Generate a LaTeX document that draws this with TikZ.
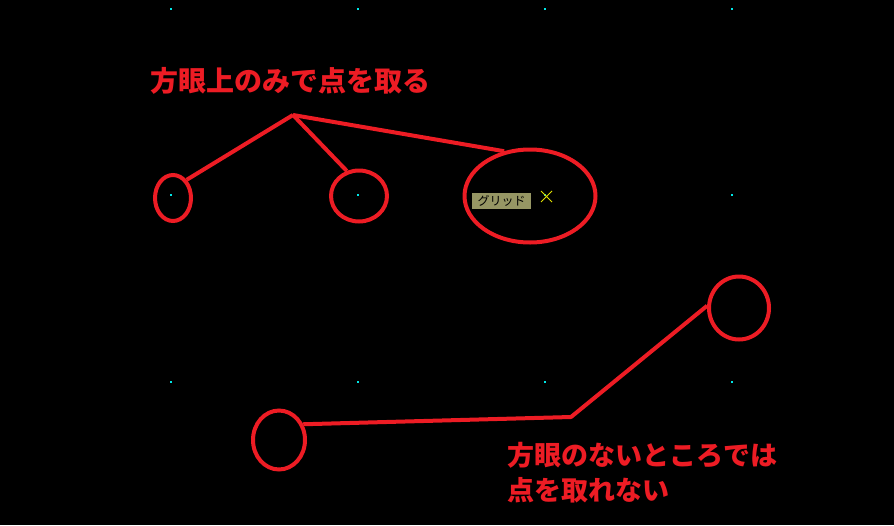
\documentclass[tikz,border=0pt]{standalone}
\usepackage{fontspec}
\newfontfamily\jpfont{Noto Sans CJK JP}
\usetikzlibrary{shapes.geometric}
\definecolor{penred}{RGB}{237,28,36}
\definecolor{griddot}{RGB}{0,230,230}
\definecolor{tipbox}{RGB}{150,150,100}
\definecolor{snapx}{RGB}{225,225,0}
\tikzset{
  pick/.style = {ellipse, draw=penred, line width=4pt, inner sep=0pt},
  note/.style = {text=penred, inner sep=0pt, font=\jpfont\bfseries\fontsize{28}{35}\selectfont}
}

\begin{document}
\begin{tikzpicture} [x=1pt, y=-1pt]
\fill [black] (0,0) rectangle (894,525);
\useasboundingbox (0,0) rectangle (894,525);
% grid points
\foreach \gx in {171,358,545,732}
  \foreach \gy in {9,195,382}
    \fill [griddot] (\gx-1,\gy-1) rectangle (\gx+1,\gy+1);
% picked points
\node (p1) [pick, minimum width=36, minimum height=46] at (173,198) {};
\node (p2) [pick, minimum width=56, minimum height=51] at (359,196) {};
\node (p3) [pick, minimum width=131, minimum height=93] at (530,196) {};
\node (q1) [pick, minimum width=52, minimum height=59] at (279,440) {};
\node (q2) [pick, minimum width=60, minimum height=63] at (739,308) {};
\coordinate (top) at (293,115);
\coordinate (bend) at (571,417);
\path [draw=penred, line width=4pt, line join=round]
    (top) edge (p1.53)
    (top) edge (p2.116)
    (top) edge (p3.120);
\draw [penred, line width=4pt, line join=round] (q1.33) -- (bend) -- (q2.176);
% snap tooltip
\node (tip) [fill=tipbox, minimum width=59, minimum height=16, inner sep=0pt,
  font=\jpfont\fontsize{12}{12}\selectfont] at (501.5,201) {グリッド};
\draw [snapx, line width=0.8pt] (541,191) -- (552,202) (541,202) -- (552,191);
% notes
\node (ok) [note, anchor=base west] at (150,91) {方眼上のみで点を取る};
\node (ng) [note, anchor=north west, align=left, font=\jpfont\bfseries\fontsize{27}{35}\selectfont]
  at (507,442) {方眼のないところでは\\点を取れない};
\end{tikzpicture}
\end{document}
